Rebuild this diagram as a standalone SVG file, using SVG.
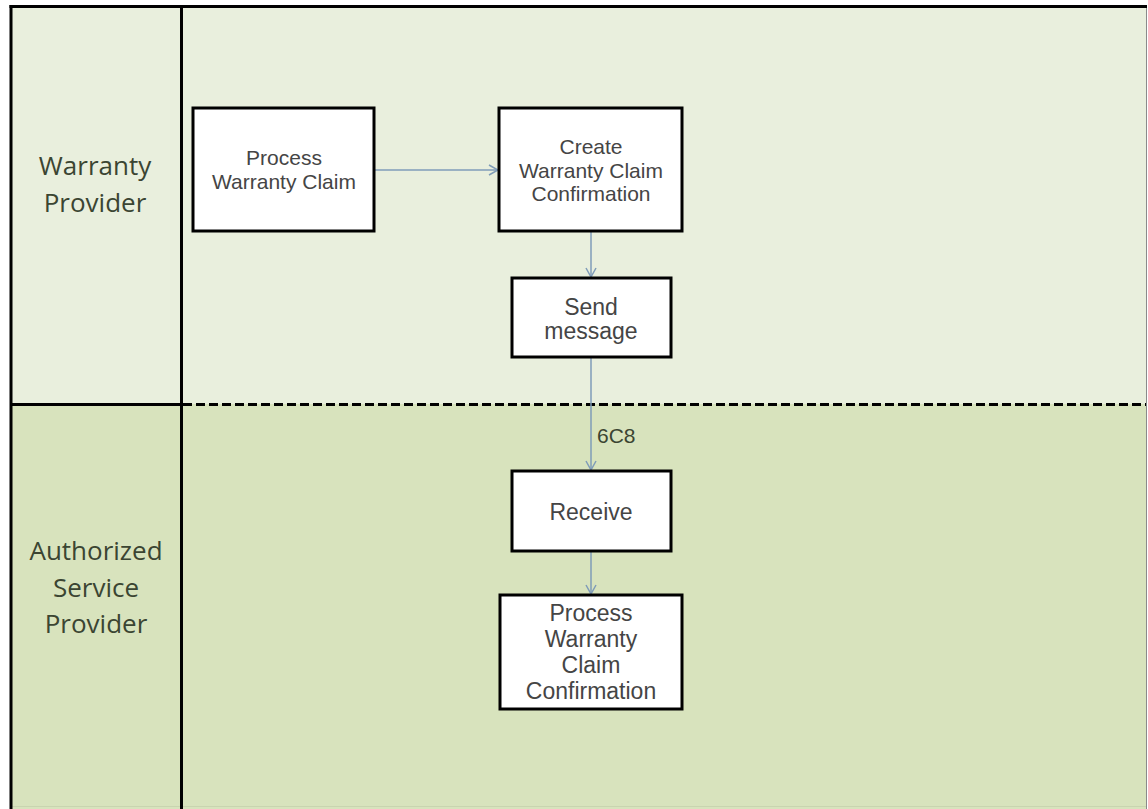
<svg xmlns="http://www.w3.org/2000/svg" width="1148" height="809" viewBox="0 0 1148 809">
  <style>
    .box { fill: #ffffff; stroke: #000000; stroke-width: 3; }
    .lane { font-family: "Open Sans", "DejaVu Sans", sans-serif; font-size: 26px; fill: #3b4532; text-anchor: middle; }
    .t21 { font-family: "Liberation Sans", Arial, sans-serif; font-size: 21px; fill: #454545; text-anchor: middle; }
    .t23 { font-family: "Liberation Sans", Arial, sans-serif; font-size: 23px; fill: #454545; text-anchor: middle; }
    .conn { stroke: #7f9cb8; stroke-width: 1.5; fill: none; marker-end: url(#arr); }
    .lbl { font-family: "Liberation Sans", Arial, sans-serif; font-size: 21px; fill: #3b4532; }
  </style>
  <defs>
    <marker id="arr" viewBox="0 0 12 12" refX="11" refY="6" markerWidth="12" markerHeight="12" markerUnits="userSpaceOnUse" orient="auto">
      <path d="M2,1 L11,6 L2,11" fill="none" stroke="#7f9cb8" stroke-width="1.5"/>
    </marker>
  </defs>

  <g id="lanes">
    <rect x="0" y="0" width="1148" height="809" fill="#ffffff"/>
    <rect x="11" y="6" width="1135" height="398" fill="#e9efdd"/>
    <rect x="11" y="404" width="1135" height="405" fill="#d8e3bd"/>
    <line x1="1146.5" y1="6" x2="1146.5" y2="809" stroke="#8a8a8a" stroke-width="1"/>
    <line x1="11" y1="806.5" x2="1146" y2="806.5" stroke="#c9d4b0" stroke-width="1"/>
    <line x1="9.5" y1="6.5" x2="1147" y2="6.5" stroke="#000" stroke-width="3"/>
    <line x1="11" y1="5" x2="11" y2="809" stroke="#000" stroke-width="3"/>
    <line x1="181.5" y1="5" x2="181.5" y2="809" stroke="#000" stroke-width="3"/>
    <line x1="11" y1="404.5" x2="181" y2="404.5" stroke="#000" stroke-width="3"/>
    <line x1="183" y1="404.5" x2="1146" y2="404.5" stroke="#000" stroke-width="3" stroke-dasharray="9 4"/>
    <text class="lane" x="95" y="175">Warranty</text>
    <text class="lane" x="95" y="212">Provider</text>
    <text class="lane" x="96" y="560">Authorized</text>
    <text class="lane" x="96" y="597">Service</text>
    <text class="lane" x="96" y="633">Provider</text>
  </g>

  <g id="connectors">
    <line class="conn" x1="375" y1="170" x2="498" y2="170"/>
    <line class="conn" x1="591" y1="232" x2="591" y2="277"/>
    <line class="conn" x1="591" y1="358" x2="591" y2="470"/>
    <line class="conn" x1="591" y1="552" x2="591" y2="594"/>
    <text class="lbl" x="597" y="443">6C8</text>
  </g>

  <g id="process-warranty-claim">
    <rect class="box" x="193" y="108" width="181" height="123"/>
    <text class="t21" x="284" y="165">Process</text>
    <text class="t21" x="284" y="189">Warranty Claim</text>
  </g>

  <g id="create-confirmation">
    <rect class="box" x="499" y="108" width="183" height="123"/>
    <text class="t21" x="591" y="154">Create</text>
    <text class="t21" x="591" y="177.5">Warranty Claim</text>
    <text class="t21" x="591" y="201">Confirmation</text>
  </g>

  <g id="send-message">
    <rect class="box" x="512" y="278" width="159" height="79"/>
    <text class="t23" x="591" y="315">Send</text>
    <text class="t23" x="591" y="339">message</text>
  </g>

  <g id="receive">
    <rect class="box" x="512" y="471" width="159" height="80"/>
    <text class="t23" x="591" y="520">Receive</text>
  </g>

  <g id="process-confirmation">
    <rect class="box" x="500" y="595" width="182" height="114"/>
    <text class="t23" x="591" y="621">Process</text>
    <text class="t23" x="591" y="647">Warranty</text>
    <text class="t23" x="591" y="673">Claim</text>
    <text class="t23" x="591" y="699">Confirmation</text>
  </g>
</svg>
